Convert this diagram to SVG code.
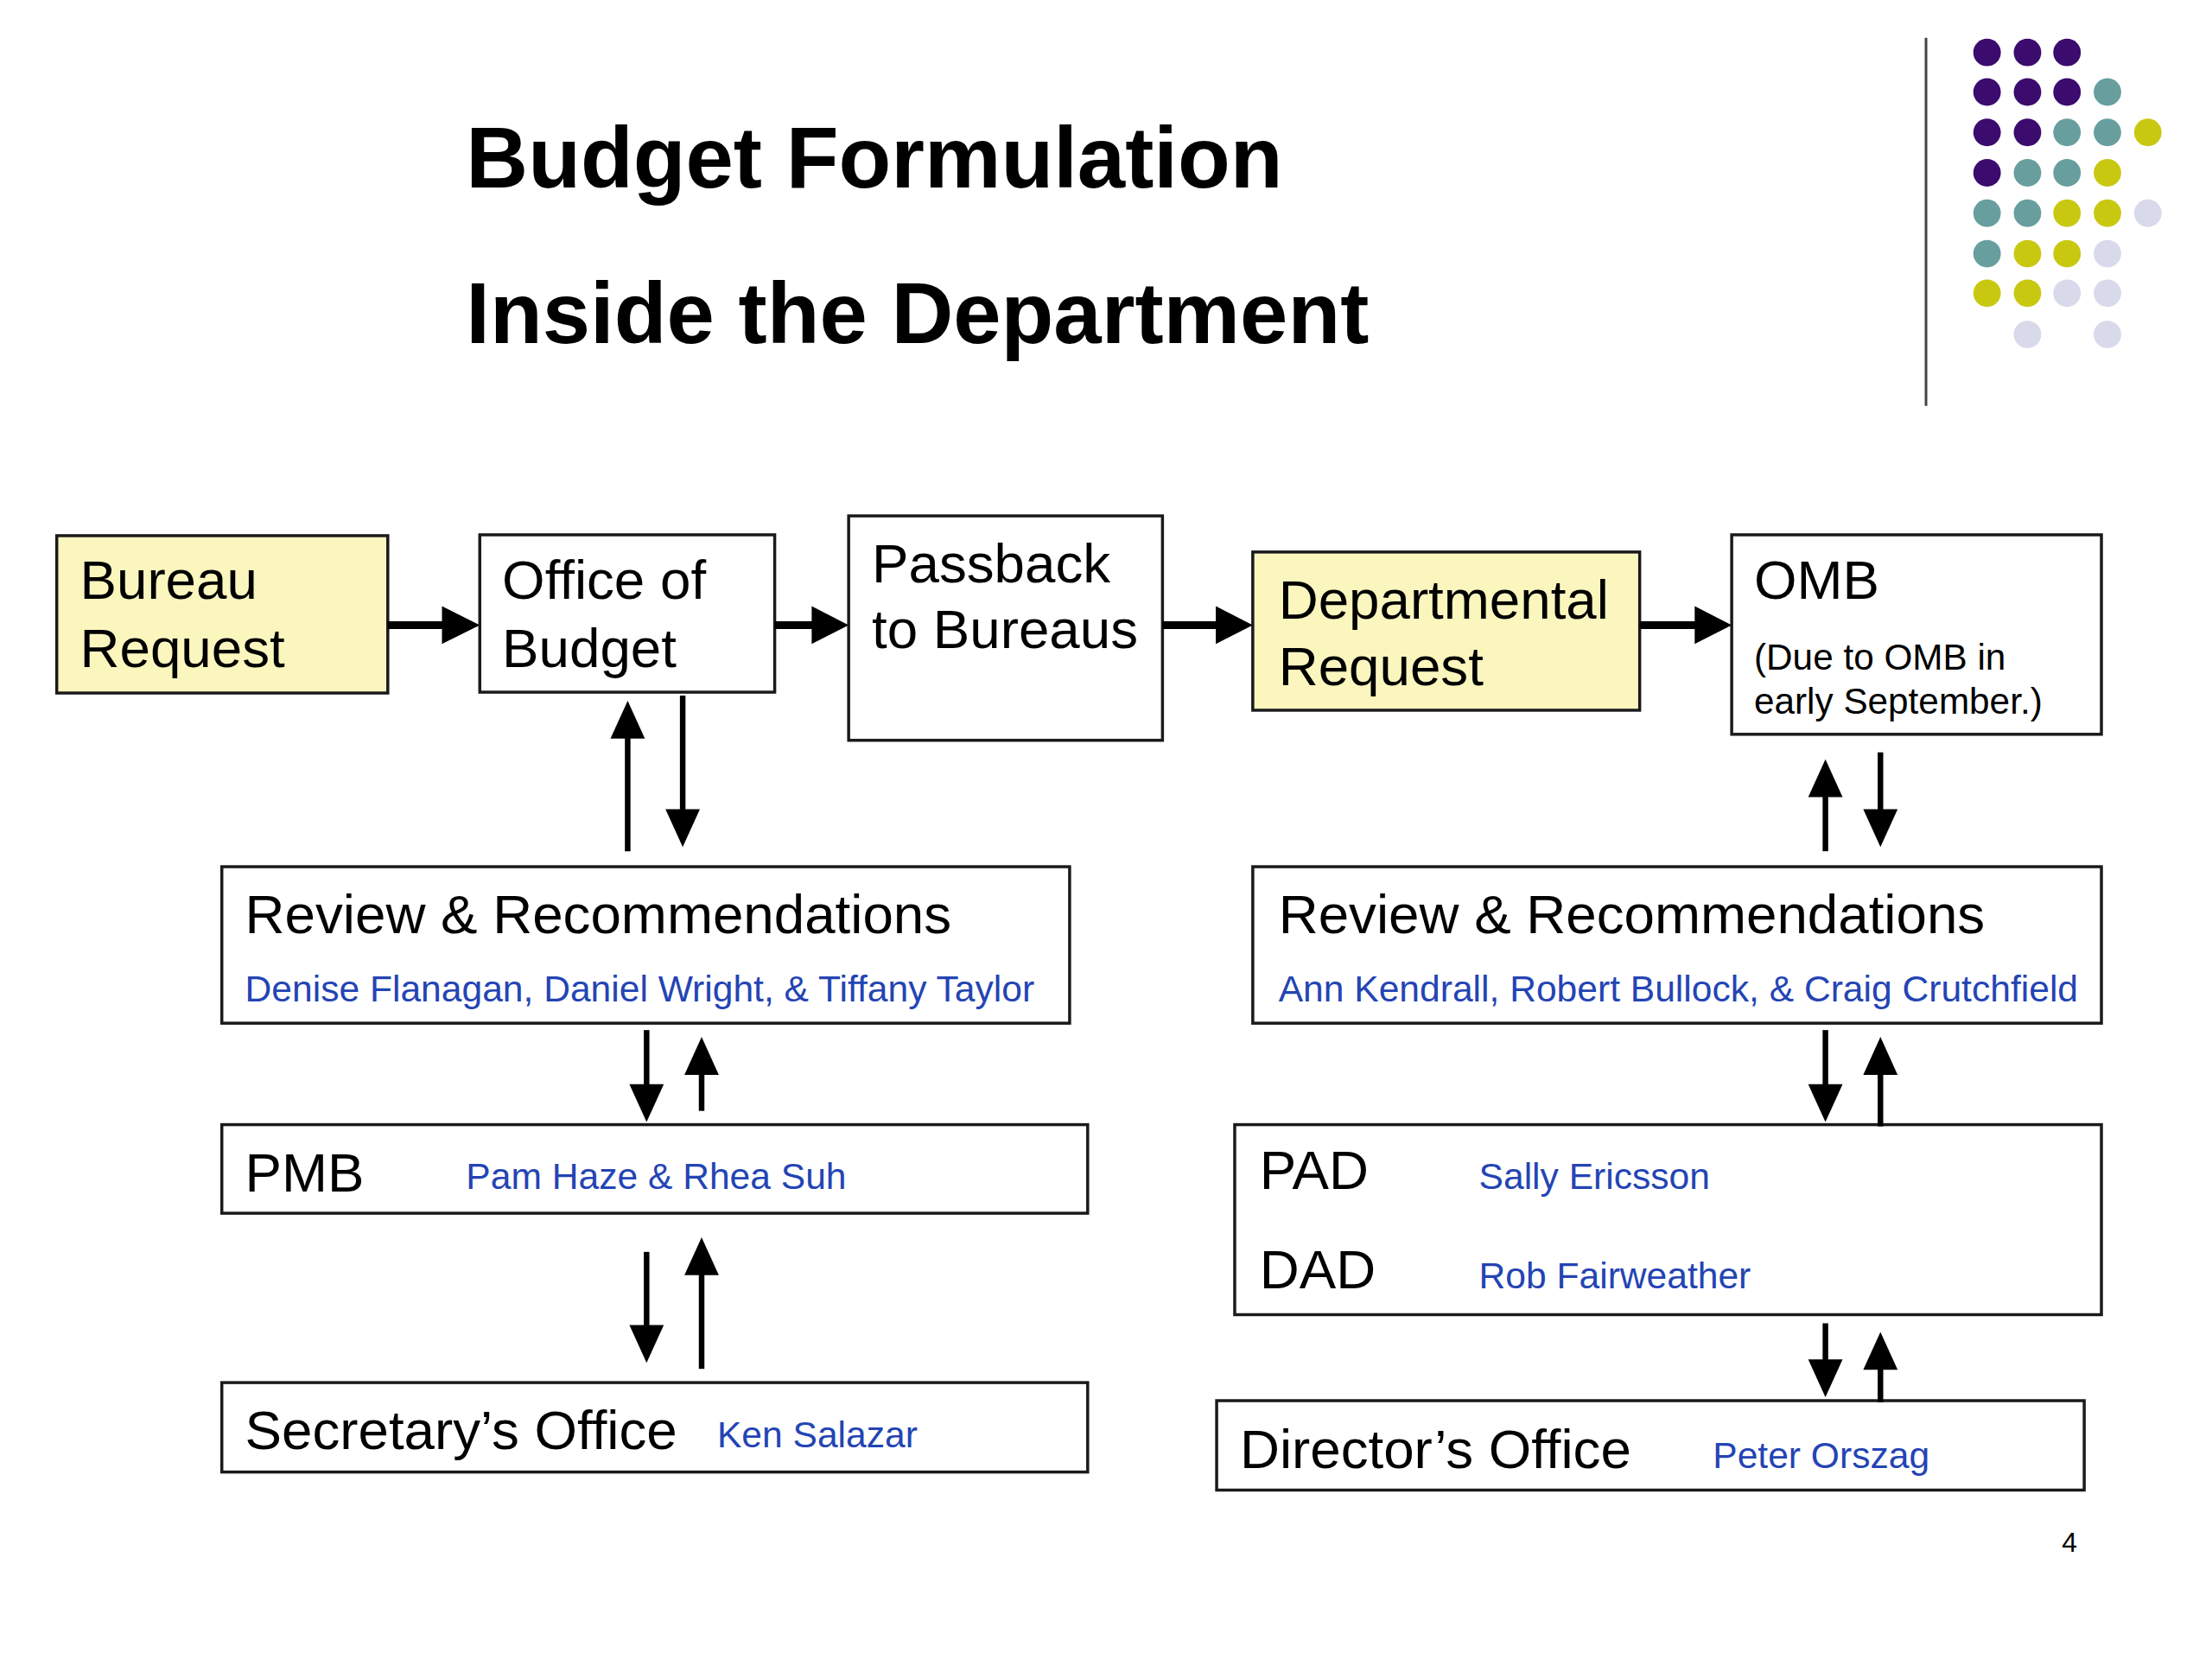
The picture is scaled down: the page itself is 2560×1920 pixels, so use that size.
<svg xmlns="http://www.w3.org/2000/svg" width="2560" height="1920" viewBox="0 0 2560 1920">
<style>
.box{fill:#ffffff;stroke:#1a1a1a;stroke-width:3.5}
.ybox{fill:#FAF6BE;stroke:#1a1a1a;stroke-width:3.5}
.t{font-family:"Liberation Sans",Arial,sans-serif;font-size:64px;fill:#000}
.s{font-family:"Liberation Sans",Arial,sans-serif;font-size:42.5px;fill:#000}
.n{font-family:"Liberation Sans",Arial,sans-serif;font-size:42.8px;fill:#2444B4}
.title{font-family:"Liberation Sans",Arial,sans-serif;font-size:100px;font-weight:bold;fill:#000}
.hl{stroke:#000;stroke-width:9;fill:none}
.vl{stroke:#000;stroke-width:6.5;fill:none}
.ah{fill:#000}
.P{fill:#3B0B6E}.T{fill:#689E9E}.Y{fill:#C9C811}.L{fill:#D9D9EC}
</style>
<rect width="2560" height="1920" fill="#ffffff"/>
<g transform="scale(0.9951)">
<g id="title">
<text class="title" x="542" y="218">Budget Formulation</text>
<text class="title" x="542" y="399">Inside the Department</text>
</g>
<g id="decor">
<line x1="2240" y1="44" x2="2240" y2="472" stroke="#444" stroke-width="3"/>
<circle class="P" cx="2311" cy="61" r="16"/><circle class="P" cx="2358" cy="61" r="16"/><circle class="P" cx="2404" cy="61" r="16"/>
<circle class="P" cx="2311" cy="107" r="16"/><circle class="P" cx="2358" cy="107" r="16"/><circle class="P" cx="2404" cy="107" r="16"/><circle class="T" cx="2451" cy="107" r="16"/>
<circle class="P" cx="2311" cy="154" r="16"/><circle class="P" cx="2358" cy="154" r="16"/><circle class="T" cx="2404" cy="154" r="16"/><circle class="T" cx="2451" cy="154" r="16"/><circle class="Y" cx="2498" cy="154" r="16"/>
<circle class="P" cx="2311" cy="201" r="16"/><circle class="T" cx="2358" cy="201" r="16"/><circle class="T" cx="2404" cy="201" r="16"/><circle class="Y" cx="2451" cy="201" r="16"/>
<circle class="T" cx="2311" cy="248" r="16"/><circle class="T" cx="2358" cy="248" r="16"/><circle class="Y" cx="2404" cy="248" r="16"/><circle class="Y" cx="2451" cy="248" r="16"/><circle class="L" cx="2498" cy="248" r="16"/>
<circle class="T" cx="2311" cy="295" r="16"/><circle class="Y" cx="2358" cy="295" r="16"/><circle class="Y" cx="2404" cy="295" r="16"/><circle class="L" cx="2451" cy="295" r="16"/>
<circle class="Y" cx="2311" cy="341" r="16"/><circle class="Y" cx="2358" cy="341" r="16"/><circle class="L" cx="2404" cy="341" r="16"/><circle class="L" cx="2451" cy="341" r="16"/>
<circle class="L" cx="2358" cy="389" r="16"/><circle class="L" cx="2451" cy="389" r="16"/>
</g>
<g id="bureau-request">
<rect class="ybox" x="66" y="623" width="385" height="183"/>
<text class="t" x="93" y="696">Bureau</text>
<text class="t" x="93" y="776">Request</text>
</g>
<g id="office-of-budget">
<rect class="box" x="558" y="622" width="343" height="183"/>
<text class="t" x="584" y="696">Office of</text>
<text class="t" x="584" y="776">Budget</text>
</g>
<g id="passback">
<rect class="box" x="987" y="600" width="365" height="261"/>
<text class="t" x="1014" y="677">Passback</text>
<text class="t" x="1014" y="754">to Bureaus</text>
</g>
<g id="departmental-request">
<rect class="ybox" x="1457" y="642" width="450" height="184"/>
<text class="t" x="1487" y="720">Departmental</text>
<text class="t" x="1487" y="797">Request</text>
</g>
<g id="omb">
<rect class="box" x="2014" y="622" width="430" height="232"/>
<text class="t" x="2040" y="696">OMB</text>
<text class="s" x="2040" y="779">(Due to OMB in</text>
<text class="s" x="2040" y="830">early September.)</text>
</g>
<g id="review-left">
<rect class="box" x="258" y="1008" width="986" height="182"/>
<text class="t" x="285" y="1085">Review &amp; Recommendations</text>
<text class="n" x="285" y="1165">Denise Flanagan, Daniel Wright, &amp; Tiffany Taylor</text>
</g>
<g id="pmb">
<rect class="box" x="258" y="1308" width="1007" height="103"/>
<text class="t" x="285" y="1386">PMB</text>
<text class="n" x="542" y="1383">Pam Haze &amp; Rhea Suh</text>
</g>
<g id="secretary">
<rect class="box" x="258" y="1608" width="1007" height="104"/>
<text class="t" x="285" y="1685">Secretary’s Office</text>
<text class="n" x="834" y="1683">Ken Salazar</text>
</g>
<g id="review-right">
<rect class="box" x="1457" y="1008" width="987" height="182"/>
<text class="t" x="1487" y="1085">Review &amp; Recommendations</text>
<text class="n" x="1487" y="1165">Ann Kendrall, Robert Bullock, &amp; Craig Crutchfield</text>
</g>
<g id="pad-dad">
<rect class="box" x="1436" y="1308" width="1008" height="221"/>
<text class="t" x="1465" y="1383">PAD</text>
<text class="n" x="1720" y="1383">Sally Ericsson</text>
<text class="t" x="1465" y="1498">DAD</text>
<text class="n" x="1720" y="1498">Rob Fairweather</text>
</g>
<g id="director">
<rect class="box" x="1415" y="1629" width="1009" height="104"/>
<text class="t" x="1442" y="1707">Director’s Office</text>
<text class="n" x="1992" y="1707">Peter Orszag</text>
</g>
<g id="page-number">
<text class="s" x="2398" y="1805" style="font-size:32px">4</text>
</g>
<g id="connectors">
<line class="hl" x1="451" y1="727" x2="518" y2="727"/><polygon class="ah" points="514,705 558,727 514,749"/>
<line class="hl" x1="901" y1="727" x2="948" y2="727"/><polygon class="ah" points="944,705 987,727 944,749"/>
<line class="hl" x1="1352" y1="727" x2="1418" y2="727"/><polygon class="ah" points="1414,705 1457,727 1414,749"/>
<line class="hl" x1="1907" y1="727" x2="1975" y2="727"/><polygon class="ah" points="1971,705 2014,727 1971,749"/>

<line class="vl" x1="730" y1="990" x2="730" y2="855"/><polygon class="ah" points="710,859 730,815 750,859"/>
<line class="vl" x1="794" y1="809" x2="794" y2="945"/><polygon class="ah" points="774,941 794,985 814,941"/>

<line class="vl" x1="752" y1="1198" x2="752" y2="1265"/><polygon class="ah" points="732,1261 752,1305 772,1261"/>
<line class="vl" x1="816" y1="1292" x2="816" y2="1246"/><polygon class="ah" points="796,1250 816,1206 836,1250"/>

<line class="vl" x1="752" y1="1456" x2="752" y2="1545"/><polygon class="ah" points="732,1541 752,1585 772,1541"/>
<line class="vl" x1="816" y1="1592" x2="816" y2="1479"/><polygon class="ah" points="796,1483 816,1439 836,1483"/>

<line class="vl" x1="2123" y1="990" x2="2123" y2="923"/><polygon class="ah" points="2103,927 2123,883 2143,927"/>
<line class="vl" x1="2187" y1="875" x2="2187" y2="945"/><polygon class="ah" points="2167,941 2187,985 2207,941"/>

<line class="vl" x1="2123" y1="1198" x2="2123" y2="1265"/><polygon class="ah" points="2103,1261 2123,1305 2143,1261"/>
<line class="vl" x1="2187" y1="1310" x2="2187" y2="1246"/><polygon class="ah" points="2167,1250 2187,1206 2207,1250"/>

<line class="vl" x1="2123" y1="1539" x2="2123" y2="1585"/><polygon class="ah" points="2103,1581 2123,1625 2143,1581"/>
<line class="vl" x1="2187" y1="1631" x2="2187" y2="1589"/><polygon class="ah" points="2167,1593 2187,1549 2207,1593"/>
</g>
</g>
</svg>
